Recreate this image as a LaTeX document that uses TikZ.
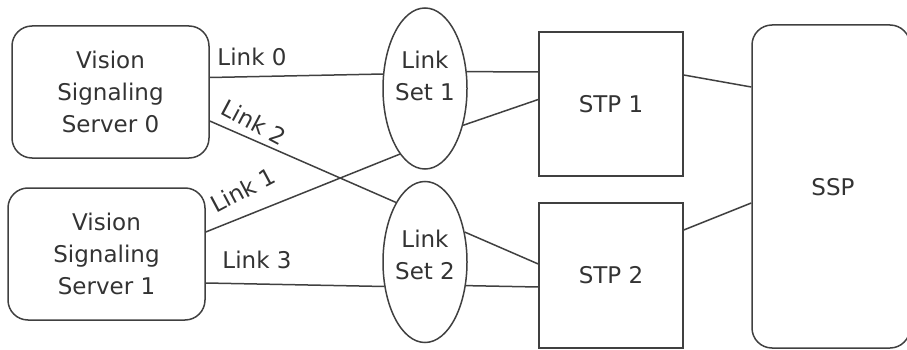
\documentclass[tikz,border=0pt]{standalone}
\usepackage{fontspec}
\setmainfont{DejaVu Sans}
\usetikzlibrary{shapes.geometric}
\begin{document}
\begin{tikzpicture}[x=1pt,y=-1pt,
  every node/.style={font=\fontsize{23}{32}\selectfont, text=black!80, inner sep=0pt},
  box/.style={draw=black!75, line width=1.5pt, rectangle},
  rbox/.style={box, rounded corners=20pt},
  oval/.style={draw=black!75, line width=1.5pt, ellipse, minimum width=84pt, minimum height=161pt},
  wire/.style={draw=black!75, line width=1.5pt},
  lbl/.style={align=center}]
\useasboundingbox (0,0) rectangle (907,350);
\node[rbox, minimum width=197pt, minimum height=132pt, align=center] (vss0) at (110.5,92) {Vision\\Signaling\\Server 0};
\node[rbox, minimum width=197pt, minimum height=132pt, align=center] (vss1) at (106.5,254) {Vision\\Signaling\\Server 1};
\node[oval] (e1) at (425,88.5) {};
\node[oval] (e2) at (425,262) {};
\node[lbl] (e1t) at (425,76) {Link\\Set 1};
\node[lbl] (e2t) at (425,255) {Link\\Set 2};
\node[box, minimum width=144pt, minimum height=144pt] (stp1) at (611,104) {STP 1};
\node[box, minimum width=144pt, minimum height=145pt] (stp2) at (611,275.5) {STP 2};
\node[rbox, minimum width=158pt, minimum height=323pt] (ssp) at (831,186.5) {};
\node (ssptext) at (833,187) {SSP};
% links
\draw[wire] ([yshift=14.5pt]vss0.east) -- (e1.161);
\draw[wire] ([yshift=-29pt]vss0.east) -- (e2.116);
\draw[wire] ([yshift=22pt]vss1.east) -- (e1.249);
\draw[wire] ([yshift=-29pt]vss1.east) -- (e2.211);
\draw[wire] (e1.22) -- ([yshift=32pt]stp1.west);
\draw[wire] (e1.-44) -- ([yshift=4.5pt]stp1.west);
\draw[wire] (e2.37) -- ([yshift=11.5pt]stp2.west);
\draw[wire] (e2.-30) -- ([yshift=-11.5pt]stp2.west);
\draw[wire] ([yshift=29pt]stp1.east) -- ([yshift=99.5pt]ssp.west);
\draw[wire] ([yshift=45.5pt]stp2.east) -- ([yshift=-16.5pt]ssp.west);
% labels
\node (l0) at (252,57) {Link 0};
\node[rotate=-28] (l2) at (254,122) {Link 2};
\node[rotate=28] (l1) at (243,190) {Link 1};
\node (l3) at (257,260) {Link 3};
\end{tikzpicture}
\end{document}
